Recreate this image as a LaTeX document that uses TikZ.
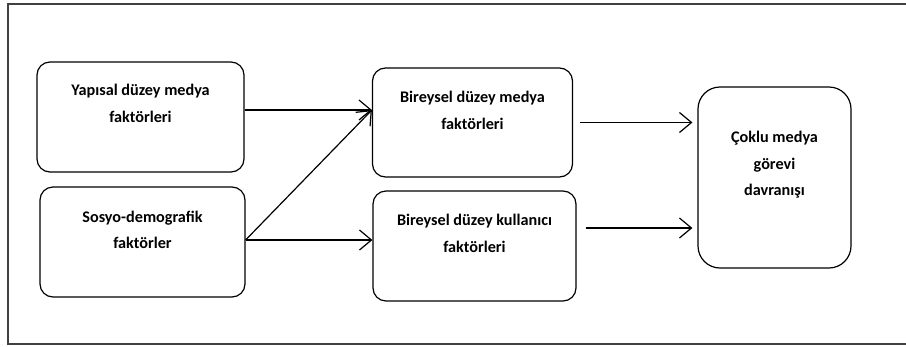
\documentclass[tikz,border=0pt]{standalone}
\usepackage{fontspec}
\setmainfont{Carlito}
\usetikzlibrary{arrows.meta}
\begin{document}
\begin{tikzpicture}[x=1pt,y=-1pt,
  box/.style={draw=black, line width=1.2pt, rounded corners=13pt, inner sep=0pt},
  txt/.style={align=center, font=\fontsize{16.2}{26.5}\selectfont\bfseries, inner sep=0pt},
  arr/.style={line width=1.2pt, -{Straight Barb[length=12pt,width=20pt,line width=1.2pt]}}]
\useasboundingbox (0,0) rectangle (906,346);
\draw[line width=1.4pt, draw=black!75] (906,4) -- (8,4) -- (8,344) -- (906,344);
% boxes
\node[box, minimum width=207pt, minimum height=110pt] (b1) at (140.5,117) {};
\node[box, minimum width=205pt, minimum height=110pt] (b2) at (142.5,242) {};
\node[box, minimum width=200pt, minimum height=109pt] (b3) at (472.5,122.5) {};
\node[box, minimum width=203pt, minimum height=110pt] (b4) at (474.5,246) {};
\node[box, minimum width=153pt, minimum height=181pt, rounded corners=22pt] (b5) at (774.5,177.5) {};
% texts
\node[txt] (t1) at ([yshift=13.5pt]b1.center) {Yapısal düzey medya\\faktörleri};
\node[txt] (t2) at ([yshift=12pt]b2.center) {Sosyo-demografik\\faktörler};
\node[txt] (t3) at ([yshift=12pt]b3.center) {Bireysel düzey medya\\faktörleri};
\node[txt] (t4) at ([yshift=12.5pt]b4.center) {Bireysel düzey kullanıcı\\faktörleri};
\node[txt] (t5) at ([yshift=12.5pt]b5.center) {Çoklu medya\\görevi\\davranışı};
% connectors
\coordinate (p1) at ([yshift=7pt]b1.east);
\coordinate (p2) at ([yshift=2pt]b2.east);
\draw[arr] (p1) -- (p1 -| b3.west);
\draw[arr] (p2) -- (p1 -| b3.west);
\draw[arr] (p2) -- (p2 -| b4.west);
\draw[arr, shorten <=7pt, shorten >=5pt] (b3.east) -- (b3.east -| b5.west);
\coordinate (p4) at ([yshift=18pt]b4.east);
\draw[arr, shorten <=9pt, shorten >=5pt] (p4) -- (p4 -| b5.west);
\end{tikzpicture}
\end{document}
